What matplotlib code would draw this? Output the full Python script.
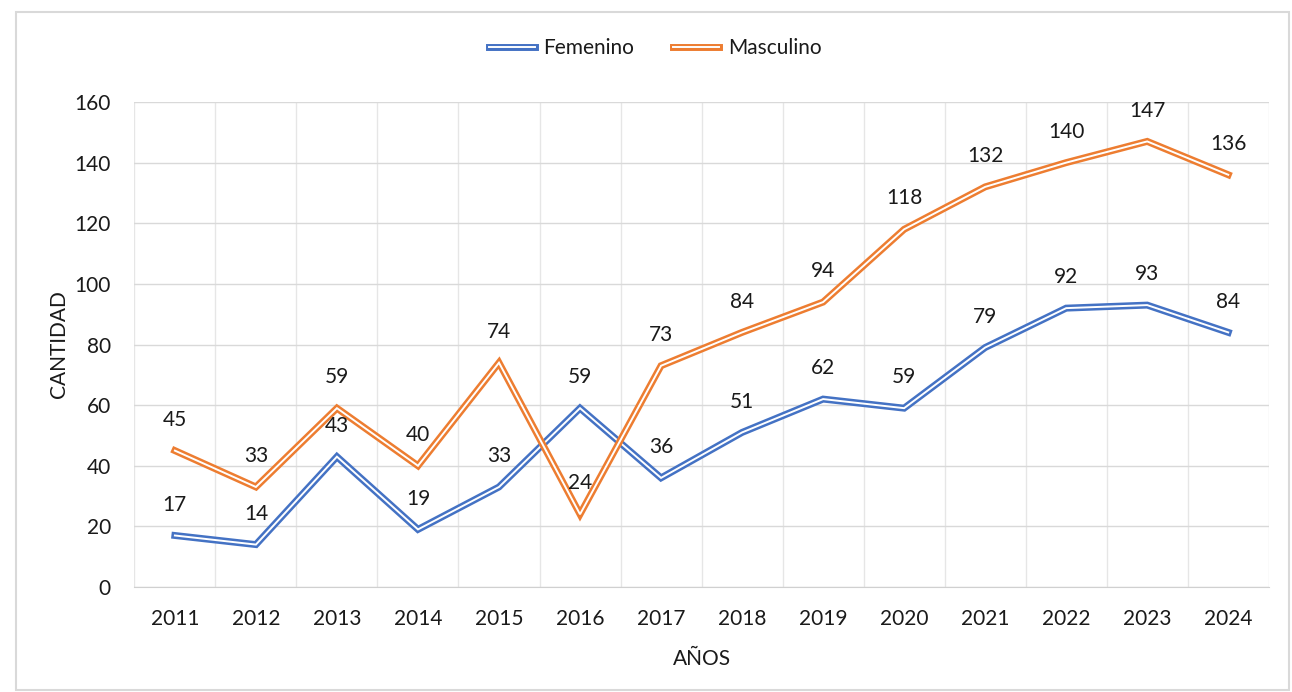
import matplotlib.pyplot as plt
from matplotlib.patches import Rectangle
from matplotlib.ticker import MultipleLocator

plt.rcParams['font.family'] = ['Lato', 'DejaVu Sans']
plt.rcParams['font.size'] = 15

anios = ['2011', '2012', '2013', '2014', '2015', '2016', '2017',
         '2018', '2019', '2020', '2021', '2022', '2023', '2024']
femenino = [17, 14, 43, 19, 33, 59, 36, 51, 62, 59, 79, 92, 93, 84]
masculino = [45, 33, 59, 40, 74, 24, 73, 84, 94, 118, 132, 140, 147, 136]

azul = '#4472C4'
naranja = '#ED7D31'
texto = '#1a1a1a'

fig = plt.figure(figsize=(12.92, 6.92), dpi=100)
ax = fig.add_axes([0.104, 0.1517, 0.878, 0.7009])

x = list(range(len(anios)))
handles = []
for serie, color, nombre in [(femenino, azul, 'Femenino'), (masculino, naranja, 'Masculino')]:
    l1, = ax.plot(x, serie, color=color, lw=5.0, solid_joinstyle='miter', zorder=3)
    l2, = ax.plot(x, serie, color='white', lw=1.4, solid_joinstyle='miter', zorder=3)
    handles.append(((l1, l2), nombre))
    for xi, v in zip(x, serie):
        ax.annotate(str(v), (xi, v), xytext=(0, 15), textcoords='offset points',
                    ha='center', va='bottom', color=texto, fontsize=15, zorder=4)

ax.set_xlim(-0.5, len(anios) - 0.5)
ax.set_ylim(0, 160)
ax.yaxis.set_major_locator(MultipleLocator(20))
ax.set_xticks(x)
ax.set_xticklabels(anios)
ax.set_xticks([i - 0.5 for i in range(len(anios) + 1)], minor=True)
ax.grid(axis='y', which='major', color='#d9d9d9', lw=1)
ax.grid(axis='x', which='minor', color='#e6e6e6', lw=1)
ax.set_axisbelow(True)
for s in ['top', 'right', 'left']:
    ax.spines[s].set_visible(False)
ax.spines['bottom'].set_color('#d0d0d0')
ax.tick_params(axis='both', which='both', length=0, colors=texto, labelsize=15)
ax.tick_params(axis='x', pad=16)
ax.tick_params(axis='y', pad=17)

ax.set_xlabel('AÑOS', color=texto, fontsize=15, labelpad=14)
ax.set_ylabel('CANTIDAD', color=texto, fontsize=15, labelpad=4)

leg = fig.legend([h for h, _ in handles], [n for _, n in handles],
                 loc='center', bbox_to_anchor=(0.507, 0.93), ncol=2, frameon=False,
                 fontsize=15, handlelength=2.2, handletextpad=0.4, columnspacing=1.9)
for t in leg.get_texts():
    t.set_color(texto)

fig.patches.append(Rectangle((0.0125, 0.003), 0.985, 0.98, transform=fig.transFigure,
                             fill=False, edgecolor='#d9d9d9', lw=1.5))

fig.savefig('out.png', dpi=100)
